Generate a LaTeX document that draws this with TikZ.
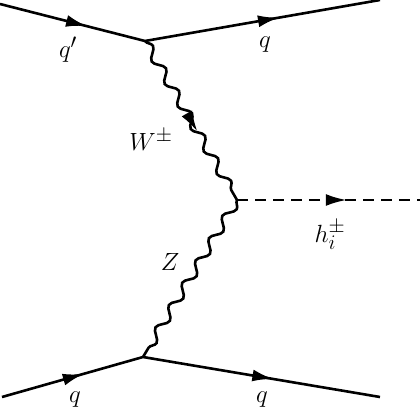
\documentclass[tikz,border=0pt]{standalone}
\usetikzlibrary{decorations.pathmorphing,decorations.markings,arrows.meta}
\begin{document}
\begin{tikzpicture}[x=1pt,y=-1pt,line width=2.6pt,
  fermion/.style={postaction={decorate},decoration={markings,mark=at position #1 with {\arrow{Latex[length=21pt,width=12pt]}}}},
  boson/.style={decorate,decoration={snake,amplitude=4.5pt,segment length=26pt}},
  scalar/.style={dash pattern=on 11pt off 7pt},
  lbl/.style={font=\Huge,inner sep=0pt}]
\useasboundingbox (0,0) rectangle (420,412);
\coordinate (a1) at (0,4);
\coordinate (v1) at (145,41);
\coordinate (a2) at (380,0);
\coordinate (v2) at (237,200);
\coordinate (h) at (420,200);
\coordinate (b1) at (2,397);
\coordinate (v3) at (143,357);
\coordinate (b2) at (380,397);
\draw[fermion=0.6] (a1) -- (v1);
\draw[fermion=0.57] (v1) -- (a2);
\draw[fermion=0.58] (b1) -- (v3);
\draw[fermion=0.55] (v3) -- (b2);
\draw[boson] (v1) -- (v2);
\draw[boson] (v2) -- (v3);
\path[fermion=0.57] (v1) -- (v2);
\draw[scalar] (v2) -- (h);
\path[fermion=0.6] (v2) -- (h);
\node[lbl] (l1) at (68,50) {$q'$};
\node[lbl] (l2) at (265,45) {$q$};
\node[lbl] (l3) at (151,140) {$W^{\pm}$};
\node[lbl] (l4) at (330,235) {$h_i^{\pm}$};
\node[lbl] (l5) at (170,262) {$Z$};
\node[lbl] (l6) at (75,400) {$q$};
\node[lbl] (l7) at (262,400) {$q$};
\end{tikzpicture}
\end{document}
